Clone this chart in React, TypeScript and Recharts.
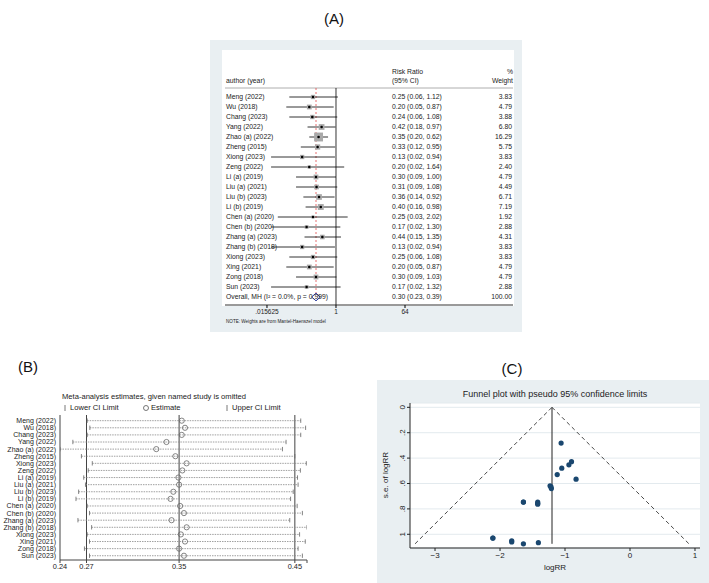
import React from 'react';
import { ScatterChart, Scatter, XAxis, YAxis, ReferenceLine, CartesianGrid } from 'recharts';

const FONT = '"Liberation Sans", Arial, Helvetica, sans-serif';

// ---------- Panel A: forest plot ----------
const studyNames = [
  'Meng (2022)', 'Wu (2018)', 'Chang (2023)', 'Yang (2022)', 'Zhao (a) (2022)', 'Zheng (2015)',
  'Xiong (2023)', 'Zeng (2022)', 'Li (a) (2019)', 'Liu (a) (2021)', 'Liu (b) (2023)', 'Li (b) (2019)',
  'Chen (a) (2020)', 'Chen (b) (2020)', 'Zhang (a) (2023)', 'Zhang (b) (2018)', 'Xiong (2023)',
  'Xing (2021)', 'Zong (2018)', 'Sun (2023)',
];
const riskRatio = [0.25, 0.20, 0.24, 0.42, 0.35, 0.33, 0.13, 0.20, 0.30, 0.31, 0.36, 0.40, 0.25, 0.17, 0.44, 0.13, 0.25, 0.20, 0.30, 0.17];
const ciLower = [0.06, 0.05, 0.06, 0.18, 0.20, 0.12, 0.02, 0.02, 0.09, 0.09, 0.14, 0.16, 0.03, 0.02, 0.15, 0.02, 0.06, 0.05, 0.09, 0.02];
const ciUpper = [1.12, 0.87, 1.08, 0.97, 0.62, 0.95, 0.94, 1.64, 1.00, 1.08, 0.92, 0.98, 2.02, 1.30, 1.35, 0.94, 1.08, 0.87, 1.03, 1.32];
const weightPct = [3.83, 4.79, 3.88, 6.80, 16.29, 5.75, 3.83, 2.40, 4.79, 4.49, 6.71, 7.19, 1.92, 2.88, 4.31, 3.83, 3.83, 4.79, 4.79, 2.88];
const overallRR = 0.30;
const overallLower = 0.23;
const overallUpper = 0.39;
const overallWeight = 100.0;
const overallText = 'Overall, MH (I\u00b2 = 0.0%, p = 0.999)';
const forestTicks = [0.015625, 1, 64];
const forestTickLabels = ['.015625', '1', '64'];

// ---------- Panel B: leave-one-out ----------
const omitEst = [0.3523, 0.3551, 0.3523, 0.3391, 0.3303, 0.3468, 0.3565, 0.3528, 0.3494, 0.3500, 0.3450, 0.3426, 0.3509, 0.3542, 0.3435, 0.3565, 0.3515, 0.3551, 0.3500, 0.3542];
const omitLow = [0.2706, 0.2729, 0.2706, 0.2582, 0.2471, 0.2656, 0.2750, 0.2715, 0.2676, 0.2691, 0.2632, 0.2609, 0.2706, 0.2726, 0.2626, 0.2744, 0.2706, 0.2726, 0.2682, 0.2726];
const omitHigh = [0.4551, 0.4593, 0.4551, 0.4424, 0.4393, 0.4500, 0.4599, 0.4548, 0.4523, 0.4528, 0.4486, 0.4463, 0.4520, 0.4565, 0.4456, 0.4605, 0.4541, 0.4590, 0.4528, 0.4565];
const omitRefLines = [0.27, 0.35, 0.45];
const omitTicks = [0.2471, 0.27, 0.35, 0.45, 0.4605];
const omitTickLabels = ['0.24', '0.27', '0.35', '0.45', ''];

// ---------- Panel C: funnel plot ----------
const funnelLogRR = [-1.42, -1.64, -1.42, -0.90, -1.06, -1.12, -2.11, -1.64, -1.23, -1.21, -1.05, -0.94, -1.41, -1.82, -0.83, -2.11, -1.42, -1.64, -1.215, -1.82];
const funnelSE = [0.746, 0.746, 0.756, 0.428, 0.282, 0.530, 1.030, 1.075, 0.618, 0.640, 0.479, 0.453, 1.066, 1.051, 0.566, 1.030, 0.763, 0.746, 0.627, 1.060];
const pooledLogRR = -1.2;
const funnelXTicks = [-3, -2, -1, 0, 1];
const funnelXLabels = ['\u22123', '\u22122', '\u22121', '0', '1'];
const funnelYTicks = [0, 0.2, 0.4, 0.6, 0.8, 1];
const funnelYLabels = ['0', '.2', '.4', '.6', '.8', '1'];

function Txt({ x, y, anchor = 'start', size = 7, color = '#222', rotate = 0, children }: any) {
  const tx = anchor === 'end' ? '-100%' : anchor === 'middle' ? '-50%' : '0';
  return (
    <div
      style={{
        position: 'absolute', left: x, top: y,
        transform: `translate(${tx}, -50%)${rotate ? ` rotate(${rotate}deg)` : ''}`,
        fontSize: size, lineHeight: 1, whiteSpace: 'nowrap', color, fontFamily: FONT,
      }}
    >
      {children}
    </div>
  );
}

const A_XMIN = -9.65;
const A_XMAX = 15.39;
const A_YMIN = -0.9;
const A_YMAX = 20.8;
const A_CI_X = 4.87;

function ForestPanel() {
  const n = studyNames.length;
  const rows = studyNames.map((name, i) => ({ name, i, est: riskRatio[i], lo: ciLower[i], hi: ciUpper[i], w: weightPct[i] }));
  const allRows = [...rows, { name: overallText, i: n, est: overallRR, lo: overallLower, hi: overallUpper, w: overallWeight }];
  const boxes = rows.map((r) => ({ x: Math.log2(r.est), y: r.i, w: r.w }));
  const labelPts = allRows.map((r) => ({ x: A_XMIN, y: r.i, t: r.name }));
  const ciPts = allRows.map((r) => ({ x: A_CI_X, y: r.i, t: `${r.est.toFixed(2)} (${r.lo.toFixed(2)}, ${r.hi.toFixed(2)})` }));
  const wPts = allRows.map((r) => ({ x: A_XMAX, y: r.i, t: r.w.toFixed(2) }));
  const dl = Math.log2(overallLower);
  const dm = Math.log2(overallRR);
  const dh = Math.log2(overallUpper);
  const dd = 0.38;
  const logTicks = forestTicks.map((t) => Math.log2(t));
  const textShape = (anchor: string, dx: number) => (p: any) => (
    <text x={p.cx + dx} y={p.cy} dy="0.35em" textAnchor={anchor} fontSize={6.8} fill="#222" fontFamily={FONT}>
      {p.payload.t}
    </text>
  );
  return (
    <ScatterChart width={312} height={292} margin={{ top: 48, right: 9, bottom: 15, left: 15 }}>
      <XAxis
        type="number" dataKey="x" domain={[A_XMIN, A_XMAX]} allowDataOverflow
        ticks={logTicks} interval={0} tickFormatter={(v: any, i: number) => forestTickLabels[i]}
        height={12} tickSize={3} tickMargin={1}
        axisLine={{ stroke: '#000', strokeWidth: 0.8 }} tickLine={{ stroke: '#000' }}
        tick={{ fontSize: 6.5, fill: '#222', fontFamily: FONT }}
      />
      <YAxis type="number" dataKey="y" domain={[A_YMIN, A_YMAX]} reversed hide allowDataOverflow />
      <ReferenceLine y={A_YMIN} stroke="#9a9a9a" strokeWidth={0.8} />
      <ReferenceLine x={0} stroke="#000" strokeWidth={0.8} />
      <ReferenceLine segment={[{ x: dm, y: A_YMIN }, { x: dm, y: n - dd }]} stroke="#e04a4a" strokeWidth={0.8} strokeDasharray="2 2" />
      {rows.map((r) => (
        <ReferenceLine key={`ci${r.i}`} segment={[{ x: Math.log2(r.lo), y: r.i }, { x: Math.log2(r.hi), y: r.i }]} stroke="#000" strokeWidth={0.8} />
      ))}
      <ReferenceLine segment={[{ x: dl, y: n }, { x: dm, y: n - dd }]} stroke="#26379b" strokeWidth={1} />
      <ReferenceLine segment={[{ x: dm, y: n - dd }, { x: dh, y: n }]} stroke="#26379b" strokeWidth={1} />
      <ReferenceLine segment={[{ x: dh, y: n }, { x: dm, y: n + dd }]} stroke="#26379b" strokeWidth={1} />
      <ReferenceLine segment={[{ x: dm, y: n + dd }, { x: dl, y: n }]} stroke="#26379b" strokeWidth={1} />
      <Scatter
        data={boxes} isAnimationActive={false}
        shape={(p: any) => {
          const s = 2.2 * Math.sqrt(p.payload.w);
          return (
            <g>
              <rect x={p.cx - s / 2} y={p.cy - s / 2} width={s} height={s} fill="#a9a9a9" />
              <circle cx={p.cx} cy={p.cy} r={1.3} fill="#000" />
            </g>
          );
        }}
      />
      <Scatter data={labelPts} isAnimationActive={false} shape={textShape('start', 1)} />
      <Scatter data={ciPts} isAnimationActive={false} shape={textShape('start', 0)} />
      <Scatter data={wPts} isAnimationActive={false} shape={textShape('end', -1)} />
    </ScatterChart>
  );
}

function StudyTick(p: any) {
  return (
    <text x={p.x} y={p.y} dy="0.35em" textAnchor="end" fontSize={7} fill="#222" fontFamily={FONT}>
      {studyNames[p.payload.value] ?? ''}
    </text>
  );
}

function InfluencePanel() {
  const n = studyNames.length;
  const idx = studyNames.map((_, i) => i);
  const ests = omitEst.map((v, i) => ({ x: v, y: i }));
  const caps = [...omitLow.map((v, i) => ({ x: v, y: i })), ...omitHigh.map((v, i) => ({ x: v, y: i }))];
  return (
    <ScatterChart width={320} height={171} margin={{ top: 3, right: 13, bottom: 11, left: 0 }}>
      <XAxis
        type="number" dataKey="x" domain={[omitTicks[0], omitTicks[omitTicks.length - 1]]} allowDataOverflow
        ticks={omitTicks} interval={0} tickFormatter={(v: any, i: number) => omitTickLabels[i]}
        height={12} tickSize={3} tickMargin={1}
        axisLine={{ stroke: '#444' }} tickLine={{ stroke: '#444' }}
        tick={{ fontSize: 7.4, fill: '#222', fontFamily: FONT }}
      />
      <YAxis
        type="number" dataKey="y" domain={[-0.8, n - 0.4]} reversed allowDataOverflow
        ticks={idx} interval={0}
        width={60} tickLine={false} tickSize={2} tickMargin={2}
        axisLine={{ stroke: '#444' }}
        tick={StudyTick}
      />
      {omitRefLines.map((v) => (
        <ReferenceLine key={`r${v}`} x={v} stroke="#444" strokeWidth={1} />
      ))}
      {idx.map((i) => (
        <ReferenceLine key={`d${i}`} segment={[{ x: omitLow[i], y: i }, { x: omitHigh[i], y: i }]} stroke="#888" strokeWidth={0.8} strokeDasharray="1.5 1" />
      ))}
      <Scatter
        data={caps} isAnimationActive={false}
        shape={(p: any) => <line x1={p.cx} x2={p.cx} y1={p.cy - 2.2} y2={p.cy + 2.2} stroke="#666" strokeWidth={0.8} />}
      />
      <Scatter
        data={ests} isAnimationActive={false}
        shape={(p: any) => <circle cx={p.cx} cy={p.cy} r={2.6} fill="none" stroke="#666" strokeWidth={0.8} />}
      />
    </ScatterChart>
  );
}

function RotTick(p: any) {
  const label = funnelYLabels[funnelYTicks.indexOf(p.payload.value)] ?? '';
  return (
    <text x={p.x} y={p.y} transform={`rotate(-90 ${p.x} ${p.y})`} textAnchor="middle" fontSize={8} fill="#222" fontFamily={FONT}>
      {label}
    </text>
  );
}

function FunnelPanel() {
  const pts = funnelLogRR.map((x, i) => ({ x, y: funnelSE[i] }));
  const seMax = Math.max(...funnelSE);
  const lo = pooledLogRR - 1.96 * seMax;
  const hi = pooledLogRR + 1.96 * seMax;
  return (
    <ScatterChart width={332} height={203} margin={{ top: 23, right: 9, bottom: 23, left: 0 }}>
      <CartesianGrid vertical={false} stroke="#e3eaee" fill="#ffffff" />
      <XAxis
        type="number" dataKey="x" domain={[-3.385, 1.077]} allowDataOverflow
        ticks={funnelXTicks} interval={0} tickFormatter={(v: any, i: number) => funnelXLabels[i]}
        height={12} tickSize={3} tickMargin={1}
        axisLine={{ stroke: '#222' }} tickLine={{ stroke: '#222' }}
        tick={{ fontSize: 8, fill: '#222', fontFamily: FONT }}
      />
      <YAxis
        type="number" dataKey="y" domain={[-0.034, 1.108]} reversed allowDataOverflow
        ticks={funnelYTicks} interval={0} width={33} tickSize={3} tickMargin={2}
        axisLine={{ stroke: '#222' }} tickLine={{ stroke: '#222' }}
        tick={RotTick}
      />
      <ReferenceLine segment={[{ x: lo, y: seMax }, { x: pooledLogRR, y: 0 }]} stroke="#333" strokeWidth={0.9} strokeDasharray="4 3" />
      <ReferenceLine segment={[{ x: pooledLogRR, y: 0 }, { x: hi, y: seMax }]} stroke="#333" strokeWidth={0.9} strokeDasharray="4 3" />
      <ReferenceLine segment={[{ x: pooledLogRR, y: 0 }, { x: pooledLogRR, y: seMax }]} stroke="#222" strokeWidth={1} />
      <Scatter
        data={pts} isAnimationActive={false}
        shape={(p: any) => <circle cx={p.cx} cy={p.cy} r={2.6} fill="#1a476f" />}
      />
    </ScatterChart>
  );
}

export default function App() {
  const legendMark = (kind: string) => (
    <svg width={6} height={8} style={{ verticalAlign: 'middle', marginRight: 2 }}>
      {kind === 'tick'
        ? <line x1={3} x2={3} y1={1} y2={7} stroke="#555" strokeWidth={0.8} />
        : <circle cx={3} cy={4} r={2.5} fill="none" stroke="#555" strokeWidth={0.8} />}
    </svg>
  );
  return (
    <div style={{ position: 'absolute', left: 0, top: 0, width: 709, height: 583, background: '#fff', overflow: 'hidden', fontFamily: FONT }}>
      <Txt x={334} y={18} anchor="middle" size={15} color="#111">(A)</Txt>
      <Txt x={28} y={366} anchor="middle" size={15} color="#111">(B)</Txt>
      <Txt x={512} y={368} anchor="middle" size={15} color="#111">(C)</Txt>

      {/* Panel A */}
      <div style={{ position: 'absolute', left: 210, top: 40, width: 312, height: 292, background: '#e9eff2' }} />
      <div style={{ position: 'absolute', left: 222, top: 50, width: 292, height: 256, background: '#fff' }} />
      <div style={{ position: 'absolute', left: 210, top: 40 }}>
        <ForestPanel />
      </div>
      <Txt x={392} y={72} size={6.8}>Risk Ratio</Txt>
      <Txt x={392} y={81} size={6.8}>(95% CI)</Txt>
      <Txt x={513} y={72} anchor="end" size={6.8}>%</Txt>
      <Txt x={513} y={81} anchor="end" size={6.8}>Weight</Txt>
      <Txt x={226} y={81} size={6.8}>author (year)</Txt>
      <Txt x={226} y={322} size={4.6}>NOTE: Weights are from Mantel-Haenszel model</Txt>

      {/* Panel B */}
      <Txt x={62} y={397} size={7.6}>Meta-analysis estimates, given named study is omitted</Txt>
      <Txt x={62} y={408} size={7.6}>{legendMark('tick')}Lower CI Limit</Txt>
      <Txt x={143} y={408} size={7.6}>{legendMark('circle')}Estimate</Txt>
      <Txt x={224} y={408} size={7.6}>{legendMark('tick')}Upper CI Limit</Txt>
      <div style={{ position: 'absolute', left: 0, top: 412 }}>
        <InfluencePanel />
      </div>

      {/* Panel C */}
      <div style={{ position: 'absolute', left: 377, top: 380, width: 332, height: 203, background: '#e9eff2' }} />
      <div style={{ position: 'absolute', left: 377, top: 380 }}>
        <FunnelPanel />
      </div>
      <Txt x={555} y={394} anchor="middle" size={9}>Funnel plot with pseudo 95% confidence limits</Txt>
      <Txt x={555} y={568} anchor="middle" size={8}>logRR</Txt>
      <div style={{ position: 'absolute', left: 386, top: 475, transform: 'translate(-50%, -50%) rotate(-90deg)', fontSize: 8, whiteSpace: 'nowrap', lineHeight: 1, color: '#222', fontFamily: FONT }}>
        s.e. of logRR
      </div>
    </div>
  );
}
